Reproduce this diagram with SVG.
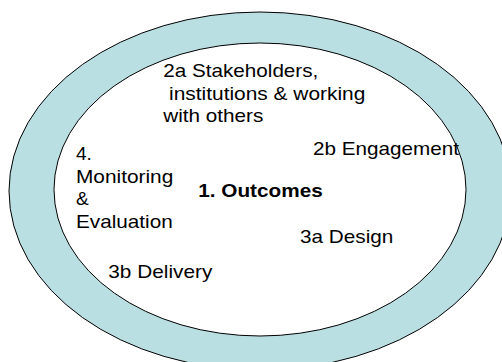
<svg xmlns="http://www.w3.org/2000/svg" width="502" height="362" viewBox="0 0 502 362">
<style>
.ring{fill:#badfe3;stroke:#000;stroke-width:1}
.core{fill:#fff;stroke:#000;stroke-width:1}
text{font-family:"Liberation Sans",Arial,sans-serif;font-size:19px;fill:#000}
.b{font-weight:bold}
</style>
<rect width="502" height="362" fill="#fff"/>
<g id="outer-ring"><ellipse class="ring" cx="260" cy="191" rx="251" ry="179"/></g>
<g id="inner-core"><ellipse class="core" cx="260" cy="189.5" rx="206" ry="146.5"/></g>
<g id="stakeholders">
<text x="163.3" y="77" textLength="155" lengthAdjust="spacingAndGlyphs">2a Stakeholders,</text>
<text x="163.3" y="99.5" xml:space="preserve" textLength="202" lengthAdjust="spacingAndGlyphs"> institutions &amp; working</text>
<text x="163.3" y="122" textLength="100" lengthAdjust="spacingAndGlyphs">with others</text>
</g>
<g id="engagement"><text x="313" y="155.3" textLength="146" lengthAdjust="spacingAndGlyphs">2b Engagement</text></g>
<g id="monitoring">
<text x="76" y="160">4.</text>
<text x="76" y="182.7" textLength="97.3" lengthAdjust="spacingAndGlyphs">Monitoring</text>
<text x="76" y="205.2">&amp;</text>
<text x="76" y="227.7" textLength="96.7" lengthAdjust="spacingAndGlyphs">Evaluation</text>
</g>
<g id="outcomes"><text class="b" x="198.3" y="196.7" textLength="124.4" lengthAdjust="spacingAndGlyphs">1. Outcomes</text></g>
<g id="design"><text x="300" y="242.7" textLength="93.3" lengthAdjust="spacingAndGlyphs">3a Design</text></g>
<g id="delivery"><text x="108.3" y="277.7" textLength="104" lengthAdjust="spacingAndGlyphs">3b Delivery</text></g>
</svg>
